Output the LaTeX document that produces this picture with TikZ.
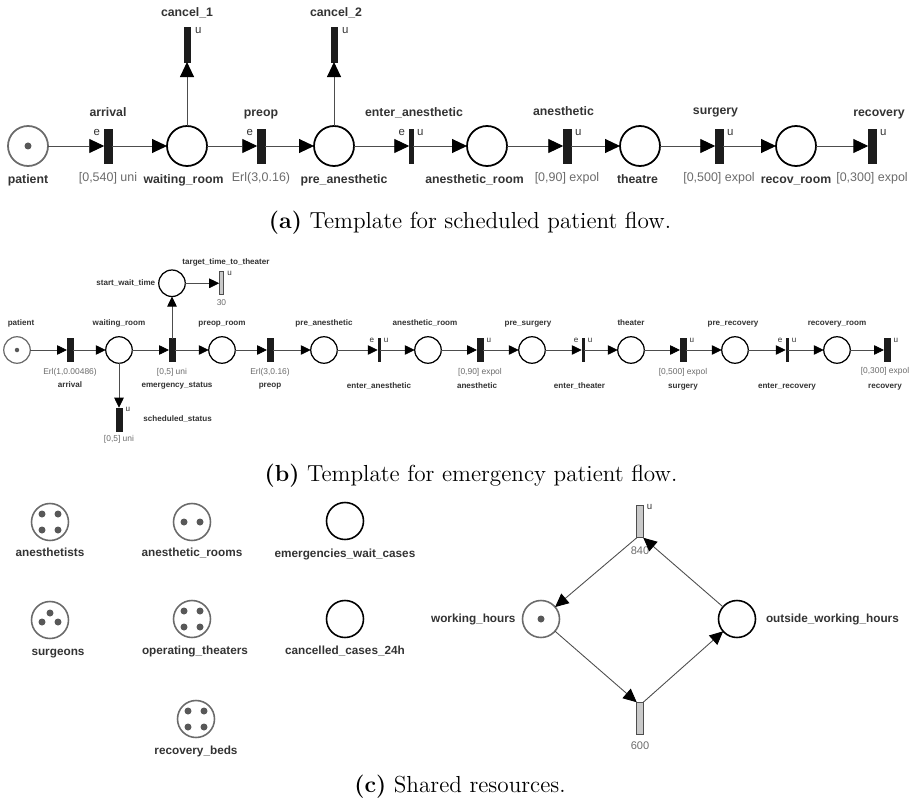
\documentclass[tikz,border=0pt]{standalone}
\usepackage{fontspec}
\setsansfont{Liberation Sans}
\usetikzlibrary{positioning,arrows.meta}

\definecolor{netline}{HTML}{4D4D4D}
\definecolor{netink}{HTML}{333333}
\definecolor{netgray}{HTML}{6B6B6B}
\definecolor{tokenfill}{HTML}{585858}
\definecolor{timedfill}{HTML}{C9C9C9}
\definecolor{barfill}{HTML}{1C1C1C}

\begin{document}
\begin{tikzpicture}[x=0.02cm, y=-0.02cm,
    every node/.style={inner sep=0pt, outer sep=0pt},
    % places and transitions
    placeA/.style={circle, draw=black, line width=1pt, minimum size=0.8cm},
    placeB/.style={circle, draw=black, line width=0.7pt, minimum size=0.53cm},
    placeC/.style={circle, draw=black, line width=0.9pt, minimum size=0.74cm},
    marked/.style={draw=netgray},
    barA/.style={rectangle, draw=barfill, fill=barfill, line width=0.2pt, minimum width=0.15cm, minimum height=0.67cm},
    thinA/.style={barA, minimum width=0.07cm},
    cancelA/.style={barA, minimum width=0.11cm, minimum height=0.69cm},
    barB/.style={rectangle, draw=barfill, fill=barfill, line width=0.2pt, minimum width=0.12cm, minimum height=0.46cm},
    thinB/.style={barB, minimum width=0.05cm},
    timedB/.style={barB, draw=netline, fill=timedfill, line width=0.4pt, minimum width=0.09cm},
    timedC/.style={rectangle, draw=netline, fill=timedfill, line width=0.5pt, minimum width=0.13cm, minimum height=0.65cm},
    % texts
    nameA/.style={font=\sffamily\bfseries\fontsize{7}{8}\selectfont, text=netink, text height=5.1pt, text depth=1.5pt},
    distA/.style={font=\sffamily\fontsize{7.1}{8}\selectfont, text=netgray, text height=5.1pt, text depth=1.5pt},
    kindA/.style={font=\sffamily\fontsize{6.5}{7}\selectfont, text=netink, text height=3.5pt, text depth=0pt},
    nameB/.style={font=\sffamily\bfseries\fontsize{4.6}{5}\selectfont, text=netink, text height=3.4pt, text depth=1pt},
    distB/.style={font=\sffamily\fontsize{4.8}{5}\selectfont, text=netgray, text height=3.5pt, text depth=1pt},
    kindB/.style={font=\sffamily\fontsize{4.6}{5}\selectfont, text=netink, text height=2.4pt, text depth=0pt},
    nameC/.style={font=\sffamily\bfseries\fontsize{6.7}{7}\selectfont, text=netink, text height=4.9pt, text depth=1.4pt},
    distC/.style={font=\sffamily\fontsize{6.3}{7}\selectfont, text=netgray, text height=4.6pt, text depth=0pt},
    subcap/.style={font=\fontsize{13.2}{16}\selectfont, anchor=base},
    % arcs
    arcA/.style={draw=netline, line width=0.55pt, -{Triangle[length=0.3cm, width=0.28cm, color=black]}},
    arcB/.style={draw=netline, line width=0.45pt, -{Triangle[length=0.2cm, width=0.19cm, color=black]}},
    arcC/.style={draw=netline, line width=0.5pt, -{Triangle[length=0.27cm, width=0.25cm, color=black]}}
]
    \useasboundingbox (0,0) rectangle (912,804);

    % (a) scheduled patients
    \node[placeA, marked] (sPatient) at (28,146) {};
    \node[barA] (sArrival) at (108,146) {};
    \node[placeA] (sWaiting) at (187,146) {};
    \node[barA] (sPreop) at (261,146) {};
    \node[placeA] (sPreAn) at (334,146) {};
    \node[thinA] (sEnterAn) at (411,146) {};
    \node[placeA] (sAnRoom) at (487,146) {};
    \node[barA] (sAnesth) at (567,146) {};
    \node[placeA] (sTheatre) at (640,146) {};
    \node[barA] (sSurgery) at (719,146) {};
    \node[placeA] (sRecRoom) at (796,146) {};
    \node[barA] (sRecovery) at (872,146) {};
    \node[cancelA, above=1.28cm of sWaiting] (sCancel1) {};
    \node[cancelA, above=1.28cm of sPreAn] (sCancel2) {};
    \fill[tokenfill] (sPatient.center) circle[radius=0.07cm];

    \node[nameA, below=4.6pt of sPatient] (sPatientL) {patient};
    \node[nameA, below=4.6pt of sWaiting, xshift=-0.07cm] (sWaitingL) {waiting\_room};
    \node[nameA, below=4.6pt of sPreAn, xshift=0.2cm] (sPreAnL) {pre\_anesthetic};
    \node[nameA, below=4.6pt of sAnRoom, xshift=-0.25cm] (sAnRoomL) {anesthetic\_room};
    \node[nameA, below=4.6pt of sTheatre, xshift=-0.05cm] (sTheatreL) {theatre};
    \node[nameA, below=4.6pt of sRecRoom] (sRecRoomL) {recov\_room};

    \node[nameA, above=6pt of sArrival] (sArrivalL) {arrival};
    \node[nameA, above=6pt of sPreop] (sPreopL) {preop};
    \node[nameA, above=6pt of sEnterAn, xshift=0.06cm] (sEnterAnL) {enter\_anesthetic};
    \node[nameA, above=6.5pt of sAnesth, xshift=-0.07cm] (sAnesthL) {anesthetic};
    \node[nameA, above=7pt of sSurgery, xshift=-0.07cm] (sSurgeryL) {surgery};
    \node[nameA, above=6pt of sRecovery, xshift=0.14cm] (sRecoveryL) {recovery};
    \node[nameA, above=4.5pt of sCancel1] (sCancel1L) {cancel\_1};
    \node[nameA, above=4.5pt of sCancel2, xshift=0.04cm] (sCancel2L) {cancel\_2};

    \node[distA, below=5.5pt of sArrival] (sArrivalD) {[0,540] uni};
    \node[distA, below=5.5pt of sPreop] (sPreopD) {Erl(3,0.16)};
    \node[distA, below=5.5pt of sAnesth] (sAnesthD) {[0,90] expol};
    \node[distA, below=5.5pt of sSurgery] (sSurgeryD) {[0,500] expol};
    \node[distA, below=5.5pt of sRecovery] (sRecoveryD) {[0,300] expol};

    \node[kindA, left=2.5pt of sArrival.north west, anchor=north east] (sArrivalE) {e};
    \node[kindA, left=2.5pt of sPreop.north west, anchor=north east] (sPreopE) {e};
    \node[kindA, left=2.5pt of sEnterAn.north west, anchor=north east] (sEnterAnE) {e};
    \node[kindA, right=2.5pt of sEnterAn.north east, anchor=north west] (sEnterAnU) {u};
    \node[kindA, right=2.5pt of sAnesth.north east, anchor=north west] (sAnesthU) {u};
    \node[kindA, right=2.5pt of sSurgery.north east, anchor=north west] (sSurgeryU) {u};
    \node[kindA, right=2.5pt of sRecovery.north east, anchor=north west] (sRecoveryU) {u};
    \node[kindA, right=3pt of sCancel1.north east, anchor=north west] (sCancel1U) {u};
    \node[kindA, right=3pt of sCancel2.north east, anchor=north west] (sCancel2U) {u};

    \draw[arcA] (sPatient) -- (sArrival);
    \draw[arcA] (sArrival) -- (sWaiting);
    \draw[arcA] (sWaiting) -- (sPreop);
    \draw[arcA] (sPreop) -- (sPreAn);
    \draw[arcA] (sPreAn) -- (sEnterAn);
    \draw[arcA] (sEnterAn) -- (sAnRoom);
    \draw[arcA] (sAnRoom) -- (sAnesth);
    \draw[arcA] (sAnesth) -- (sTheatre);
    \draw[arcA] (sTheatre) -- (sSurgery);
    \draw[arcA] (sSurgery) -- (sRecRoom);
    \draw[arcA] (sRecRoom) -- (sRecovery);
    \draw[arcA] (sWaiting) -- (sCancel1);
    \draw[arcA] (sPreAn) -- (sCancel2);

    \node[subcap] (capA) at (470,229) {\textbf{(a)} Template for scheduled patient flow.};

    % (b) emergency patients
    \node[placeB, marked] (ePatient) at (17,350) {};
    \node[barB] (eArrival) at (70,350) {};
    \node[placeB] (eWaiting) at (119,350) {};
    \node[barB] (eEmergency) at (172,350) {};
    \node[placeB] (ePreopRoom) at (222,350) {};
    \node[barB] (ePreop) at (270,350) {};
    \node[placeB] (ePreAn) at (324,350) {};
    \node[thinB] (eEnterAn) at (379,350) {};
    \node[placeB] (eAnRoom) at (428,350) {};
    \node[barB] (eAnesth) at (480,350) {};
    \node[placeB] (ePreSurg) at (532,350) {};
    \node[thinB] (eEnterTh) at (583,350) {};
    \node[placeB] (eTheater) at (631,350) {};
    \node[barB] (eSurgery) at (683,350) {};
    \node[placeB] (ePreRec) at (735,350) {};
    \node[thinB] (eEnterRec) at (787,350) {};
    \node[placeB] (eRecRoom) at (837,350) {};
    \node[barB] (eRecovery) at (887,350) {};
    \node[barB, below=0.89cm of eWaiting] (eScheduled) {};
    \node[placeB, above=0.84cm of eEmergency] (eStartWait) {};
    \node[timedB, right=0.68cm of eStartWait] (eTarget) {};
    \fill[tokenfill] (ePatient.center) circle[radius=0.045cm];

    \node[nameB, above=5.2pt of ePatient, xshift=0.08cm] (ePatientL) {patient};
    \node[nameB, above=5.2pt of eWaiting] (eWaitingL) {waiting\_room};
    \node[nameB, above=5.2pt of ePreopRoom] (ePreopRoomL) {preop\_room};
    \node[nameB, above=5.2pt of ePreAn] (ePreAnL) {pre\_anesthetic};
    \node[nameB, above=5.2pt of eAnRoom, xshift=-0.06cm] (eAnRoomL) {anesthetic\_room};
    \node[nameB, above=5.2pt of ePreSurg, xshift=-0.08cm] (ePreSurgL) {pre\_surgery};
    \node[nameB, above=5.2pt of eTheater] (eTheaterL) {theater};
    \node[nameB, above=5.2pt of ePreRec, xshift=-0.04cm] (ePreRecL) {pre\_recovery};
    \node[nameB, above=5.2pt of eRecRoom] (eRecRoomL) {recovery\_room};
    \node[nameB, left=2pt of eStartWait] (eStartWaitL) {start\_wait\_time};
    \node[nameB, above=3pt of eTarget, xshift=0.09cm] (eTargetL) {target\_time\_to\_theater};
    \node[nameB, right=0.43cm of eScheduled] (eScheduledL) {scheduled\_status};

    \node[distB, below=3.7pt of eArrival] (eArrivalD) {Erl(1,0.00486)};
    \node[distB, below=3.7pt of eEmergency] (eEmergencyD) {[0,5] uni};
    \node[distB, below=3.7pt of ePreop] (ePreopD) {Erl(3,0.16)};
    \node[distB, below=3.7pt of eAnesth] (eAnesthD) {[0,90] expol};
    \node[distB, below=3.7pt of eSurgery] (eSurgeryD) {[0,500] expol};
    \node[distB, below=3.2pt of eRecovery, xshift=-0.04cm] (eRecoveryD) {[0,300] expol};
    \node[distB, below=2.6pt of eScheduled] (eScheduledD) {[0,5] uni};
    \node[distB, below=2.8pt of eTarget] (eTargetD) {30};

    \node[nameB, below=3pt of eArrivalD] (eArrivalL) {arrival};
    \node[nameB, below=3pt of eEmergencyD, xshift=0.1cm] (eEmergencyL) {emergency\_status};
    \node[nameB, below=3.4pt of ePreopD] (ePreopL) {preop};
    \node[nameB, below=3.6pt of eAnesthD, xshift=-0.06cm] (eAnesthL) {anesthetic};
    \node[nameB, below=3.6pt of eSurgeryD] (eSurgeryL) {surgery};
    \node[nameB, below=4pt of eRecoveryD] (eRecoveryL) {recovery};
    \node[nameB, below=11.7pt of eEnterAn] (eEnterAnL) {enter\_anesthetic};
    \node[nameB, below=11.7pt of eEnterTh, xshift=-0.07cm] (eEnterThL) {enter\_theater};
    \node[nameB, below=11.7pt of eEnterRec] (eEnterRecL) {enter\_recovery};

    \node[kindB, left=2pt of eEnterAn.north west, anchor=north east] (eEnterAnE) {e};
    \node[kindB, right=2pt of eEnterAn.north east, anchor=north west] (eEnterAnU) {u};
    \node[kindB, right=2pt of eAnesth.north east, anchor=north west] (eAnesthU) {u};
    \node[kindB, left=2pt of eEnterTh.north west, anchor=north east] (eEnterThE) {e};
    \node[kindB, right=2pt of eEnterTh.north east, anchor=north west] (eEnterThU) {u};
    \node[kindB, right=2pt of eSurgery.north east, anchor=north west] (eSurgeryU) {u};
    \node[kindB, left=2pt of eEnterRec.north west, anchor=north east] (eEnterRecE) {e};
    \node[kindB, right=2pt of eEnterRec.north east, anchor=north west] (eEnterRecU) {u};
    \node[kindB, right=2pt of eRecovery.north east, anchor=north west] (eRecoveryU) {u};
    \node[kindB, right=2pt of eScheduled.north east, anchor=north west] (eScheduledU) {u};
    \node[kindB, right=2pt of eTarget.north east, anchor=north west] (eTargetU) {u};

    \draw[arcB] (ePatient) -- (eArrival);
    \draw[arcB] (eArrival) -- (eWaiting);
    \draw[arcB] (eWaiting) -- (eEmergency);
    \draw[arcB] (eEmergency) -- (ePreopRoom);
    \draw[arcB] (ePreopRoom) -- (ePreop);
    \draw[arcB] (ePreop) -- (ePreAn);
    \draw[arcB] (ePreAn) -- (eEnterAn);
    \draw[arcB] (eEnterAn) -- (eAnRoom);
    \draw[arcB] (eAnRoom) -- (eAnesth);
    \draw[arcB] (eAnesth) -- (ePreSurg);
    \draw[arcB] (ePreSurg) -- (eEnterTh);
    \draw[arcB] (eEnterTh) -- (eTheater);
    \draw[arcB] (eTheater) -- (eSurgery);
    \draw[arcB] (eSurgery) -- (ePreRec);
    \draw[arcB] (ePreRec) -- (eEnterRec);
    \draw[arcB] (eEnterRec) -- (eRecRoom);
    \draw[arcB] (eRecRoom) -- (eRecovery);
    \draw[arcB] (eWaiting) -- (eScheduled);
    \draw[arcB] (eEmergency) -- (eStartWait);
    \draw[arcB] (eStartWait) -- (eTarget);

    \node[subcap] (capB) at (471,481) {\textbf{(b)} Template for emergency patient flow.};

    % (c) shared resources
    \node[placeC, marked] (cAnesthetists) at (50,522) {};
    \node[placeC, marked] (cAnRooms) at (192,522) {};
    \node[placeC] (cEmergWait) at (345,521) {};
    \node[placeC, marked] (cSurgeons) at (50,620) {};
    \node[placeC, marked] (cOpTheaters) at (192,619) {};
    \node[placeC] (cCancelled) at (345,619) {};
    \node[placeC, marked] (cRecBeds) at (196,719) {};
    \node[placeC, marked] (cWorking) at (541,619) {};
    \node[placeC] (cOutside) at (737,619) {};
    \node[timedC] (cToWork) at (640,521.5) {};
    \node[timedC] (cToOff) at (640,718.5) {};

    % tokens
    \fill[tokenfill] ([shift={(-8,-8)}]cAnesthetists.center) circle[radius=0.07cm]
        ([shift={(8,-8)}]cAnesthetists.center) circle[radius=0.07cm]
        ([shift={(-8,8)}]cAnesthetists.center) circle[radius=0.07cm]
        ([shift={(8,8)}]cAnesthetists.center) circle[radius=0.07cm];
    \fill[tokenfill] ([shift={(-8,0)}]cAnRooms.center) circle[radius=0.07cm]
        ([shift={(8,0)}]cAnRooms.center) circle[radius=0.07cm];
    \fill[tokenfill] ([shift={(0,-7)}]cSurgeons.center) circle[radius=0.07cm]
        ([shift={(-8,2)}]cSurgeons.center) circle[radius=0.07cm]
        ([shift={(8,2)}]cSurgeons.center) circle[radius=0.07cm];
    \fill[tokenfill] ([shift={(-8,-8)}]cOpTheaters.center) circle[radius=0.07cm]
        ([shift={(8,-8)}]cOpTheaters.center) circle[radius=0.07cm]
        ([shift={(-8,8)}]cOpTheaters.center) circle[radius=0.07cm]
        ([shift={(8,8)}]cOpTheaters.center) circle[radius=0.07cm];
    \fill[tokenfill] ([shift={(-8,-8)}]cRecBeds.center) circle[radius=0.07cm]
        ([shift={(8,-8)}]cRecBeds.center) circle[radius=0.07cm]
        ([shift={(-8,8)}]cRecBeds.center) circle[radius=0.07cm]
        ([shift={(8,8)}]cRecBeds.center) circle[radius=0.07cm];
    \fill[tokenfill] (cWorking.center) circle[radius=0.07cm];

    \node[nameC, below=4pt of cAnesthetists] (cAnesthetistsL) {anesthetists};
    \node[nameC, below=4pt of cAnRooms] (cAnRoomsL) {anesthetic\_rooms};
    \node[nameC, below=5.5pt of cEmergWait] (cEmergWaitL) {emergencies\_wait\_cases};
    \node[nameC, below=5pt of cSurgeons, xshift=0.16cm] (cSurgeonsL) {surgeons};
    \node[nameC, below=5pt of cOpTheaters, xshift=0.06cm] (cOpTheatersL) {operating\_theaters};
    \node[nameC, below=5pt of cCancelled] (cCancelledL) {cancelled\_cases\_24h};
    \node[nameC, below=5pt of cRecBeds] (cRecBedsL) {recovery\_beds};
    \node[nameC, left=4pt of cWorking] (cWorkingL) {working\_hours};
    \node[nameC, right=6pt of cOutside] (cOutsideL) {outside\_working\_hours};
    \node[distC, below=5pt of cToWork] (cToWorkD) {840};
    \node[distC, below=4pt of cToOff] (cToOffD) {600};
    \node[kindB, font=\sffamily\fontsize{5.5}{6}\selectfont, right=2pt of cToWork.north east, anchor=north west] (cToWorkU) {u};

    \draw[arcC] (cToWork.south west) -- (cWorking);
    \draw[arcC] (cOutside) -- (cToWork.south east);
    \draw[arcC] (cWorking) -- (cToOff.north west);
    \draw[arcC] (cToOff.north east) -- (cOutside);

    \node[subcap] (capC) at (460,792) {\textbf{(c)} Shared resources.};
\end{tikzpicture}
\end{document}
